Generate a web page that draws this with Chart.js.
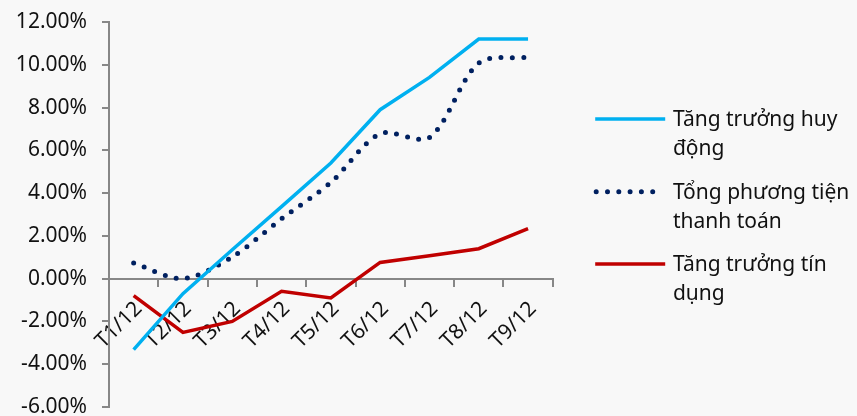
<!DOCTYPE html>
<html lang="vi">
<head>
<meta charset="utf-8">
<title>Tăng trưởng huy động, tổng phương tiện thanh toán và tín dụng</title>
<script src="https://cdn.jsdelivr.net/npm/chart.js@4.4.1/dist/chart.umd.min.js"></script>
<style>
  html, body { margin: 0; padding: 0; background: #f8f8f8; }
  #wrap { position: relative; width: 857px; height: 416px; }
</style>
</head>
<body>
<div id="wrap"><canvas id="growthChart"></canvas></div>
<script>
// Monthly cumulative growth, % since start of year
const months = ['T1/12', 'T2/12', 'T3/12', 'T4/12', 'T5/12', 'T6/12', 'T7/12', 'T8/12', 'T9/12'];
const huyDong = [-3.32, -0.70, 1.35, 3.37, 5.41, 7.90, 9.41, 11.20, 11.20];
const phuongTien = [0.73, 0.00, 1.02, 2.80, 4.50, 6.78, 6.60, 10.08, 10.35];
const tinDung = [-0.79, -2.51, -2.00, -0.59, -0.90, 0.76, 1.07, 1.40, 2.34];

// Legend text, already broken into lines
const seriesNames = [
  ['Tăng trưởng huy', 'động'],
  ['Tổng phương tiện', 'thanh toán'],
  ['Tăng trưởng tín', 'dụng'],
];

const yMin = -6;
const yMax = 12;
const yStep = 2;

const FONT = { family: "'Noto Sans', 'Open Sans', sans-serif", size: 21 };
const TEXT = '#111111';
const AXIS = '#878787';

// Legend to the right of the plot, drawn on the canvas
const sideLegend = {
  id: 'sideLegend',
  afterDraw(chart) {
    const ctx = chart.ctx;
    const left = chart.chartArea.right + 42.5;
    const rows = [119, 191.7, 264];
    ctx.save();
    ctx.font = FONT.size + 'px ' + FONT.family;
    ctx.fillStyle = TEXT;
    ctx.textAlign = 'left';
    ctx.textBaseline = 'alphabetic';
    chart.data.datasets.forEach(function (ds, i) {
      const y = rows[i];
      ctx.beginPath();
      ctx.strokeStyle = ds.borderColor;
      ctx.lineWidth = ds.borderWidth;
      ctx.setLineDash(ds.borderDash || []);
      ctx.lineCap = ds.borderCapStyle || 'butt';
      if (ds.borderDash) {
        ctx.moveTo(left + 1, y);
        ctx.lineTo(left + 64, y);
      } else {
        ctx.moveTo(left, y);
        ctx.lineTo(left + 70, y);
      }
      ctx.stroke();
      ctx.setLineDash([]);
      seriesNames[i].forEach(function (line, j) {
        ctx.fillText(line, left + 77.7, y + 7.3 + j * 29);
      });
    });
    ctx.restore();
  },
};

const ctx = document.getElementById('growthChart').getContext('2d');
new Chart(ctx, {
  type: 'line',
  data: {
    labels: months,
    datasets: [
      {
        label: seriesNames[0].join(' '),
        data: huyDong,
        borderColor: '#00b0f0',
        borderWidth: 3.5,
        pointRadius: 0,
        tension: 0,
      },
      {
        label: seriesNames[1].join(' '),
        data: phuongTien,
        borderColor: '#002060',
        borderWidth: 5,
        borderDash: [0, 11.3],
        borderCapStyle: 'round',
        pointRadius: 0,
        tension: 0.3,
      },
      {
        label: seriesNames[2].join(' '),
        data: tinDung,
        borderColor: '#c00000',
        borderWidth: 3.5,
        pointRadius: 0,
        tension: 0,
      },
    ],
  },
  options: {
    responsive: true,
    maintainAspectRatio: false,
    animation: false,
    events: [],
    layout: { padding: { left: 0, top: 22, right: 304.3, bottom: 9 } },
    plugins: {
      legend: { display: false },
      tooltip: { enabled: false },
    },
    scales: {
      x: {
        position: { y: 0 },
        offset: true,
        ticks: {
          autoSkip: false,
          minRotation: 45,
          maxRotation: 45,
          padding: 11,
          labelOffset: 5,
          color: TEXT,
          font: FONT,
        },
        grid: {
          drawOnChartArea: false,
          offset: true,
          tickLength: 7,
          color: AXIS,
          lineWidth: 2,
        },
        border: { color: AXIS, width: 2 },
        afterFit: function (scale) {
          scale.paddingLeft = 0;
          scale.paddingRight = 0;
        },
      },
      y: {
        min: yMin,
        max: yMax,
        ticks: {
          stepSize: yStep,
          padding: 15,
          color: TEXT,
          font: FONT,
          callback: function (val) {
            return val.toFixed(2) + '%';
          },
        },
        grid: {
          drawOnChartArea: false,
          tickLength: 7,
          color: AXIS,
          lineWidth: 2,
        },
        border: { color: AXIS, width: 2 },
        afterFit: function (scale) {
          scale.width = 109;
          scale.paddingTop = 0;
          scale.paddingBottom = 0;
        },
      },
    },
  },
  plugins: [sideLegend],
});
</script>
</body>
</html>
